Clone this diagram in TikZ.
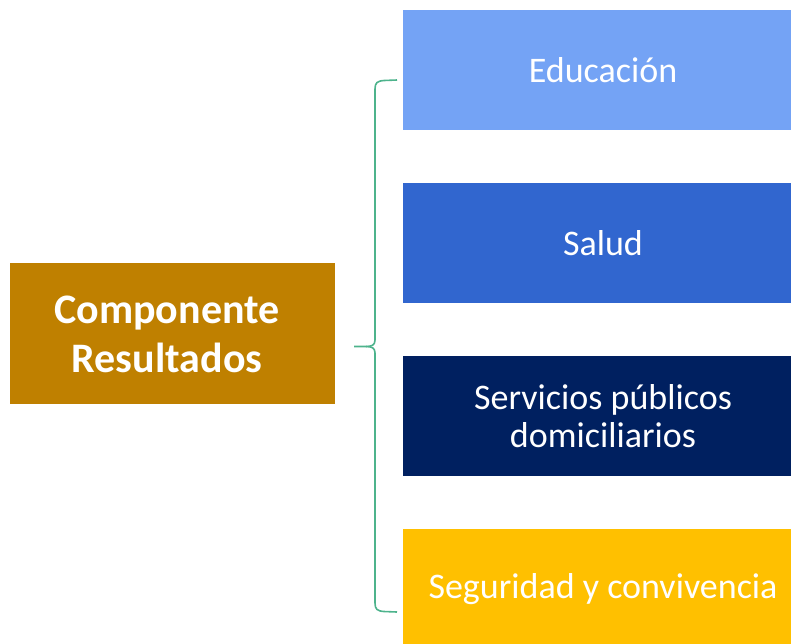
\documentclass[tikz,border=0pt]{standalone}
\usepackage{fontspec}
\setmainfont{Carlito}
\definecolor{cEdu}{HTML}{74A3F5}
\definecolor{cSal}{HTML}{3166CF}
\definecolor{cSer}{HTML}{002060}
\definecolor{cSeg}{HTML}{FFC000}
\definecolor{cComp}{HTML}{BF8000}
\definecolor{cBrace}{HTML}{4DB38C}
\begin{document}
\begin{tikzpicture}[x=1pt,y=-1pt,
  rbox/.style={rectangle,inner sep=0pt,minimum width=400pt,minimum height=120pt,
    text=white,font=\fontsize{36}{38}\selectfont,align=center},
  lbox/.style={rectangle,inner sep=0pt,minimum width=325pt,minimum height=141pt,
    fill=cComp},
  ltext/.style={inner sep=0pt,text=white,font=\fontsize{42}{49}\selectfont\bfseries,align=center},
  bracestyle/.style={draw=cBrace,line width=1.6pt}]
\useasboundingbox (0,0) rectangle (791,643);
\clip (0,0) rectangle (791,643);
\node[lbox] (comp) at (172.5,333.5) {};
\node[ltext] (comptext) at (167,334) {Componente\\Resultados};
\node[rbox,fill=cEdu] (edu) at (603,70) {Educación};
\node[rbox,fill=cSal] (sal) at (603,243) {Salud};
\node[rbox,fill=cSer] (ser) at (603,416) {Servicios públicos\\domiciliarios};
\node[rbox,fill=cSeg] (seg) at (603,589) {Seguridad y convivencia};
\coordinate (btop) at (397,80);
\coordinate (bbot) at (397,612);
\coordinate (btip) at (354,346.5);
\draw[bracestyle] (btop) -- (384,80.5) .. controls (377,81) and (375,83) .. (375,89)
  -- (375,340) .. controls (375,345) and (372,346.5) .. (366,346.5) -- (btip);
\draw[bracestyle] (bbot) -- (384,611.5) .. controls (377,611) and (375,609) .. (375,603)
  -- (375,353) .. controls (375,348) and (372,346.5) .. (366,346.5);
\end{tikzpicture}
\end{document}
